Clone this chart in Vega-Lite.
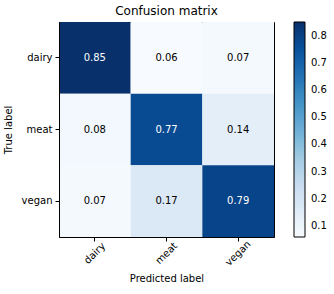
{
  "$schema": "https://vega.github.io/schema/vega-lite/v6.json",
  "autosize": {"type": "none"},
  "padding": {"left": 59, "top": 22, "right": 60, "bottom": 57},
  "width": 215,
  "height": 215,
  "background": "white",
  "title": {"text": "Confusion matrix", "font": "DejaVu Sans", "fontSize": 12, "fontWeight": "normal", "color": "black", "offset": 4},
  "data": {"values": [
    {"true": "dairy", "pred": "dairy", "v": 0.85},
    {"true": "dairy", "pred": "meat", "v": 0.06},
    {"true": "dairy", "pred": "vegan", "v": 0.07},
    {"true": "meat", "pred": "dairy", "v": 0.08},
    {"true": "meat", "pred": "meat", "v": 0.77},
    {"true": "meat", "pred": "vegan", "v": 0.14},
    {"true": "vegan", "pred": "dairy", "v": 0.07},
    {"true": "vegan", "pred": "meat", "v": 0.17},
    {"true": "vegan", "pred": "vegan", "v": 0.79}
  ]},
  "config": {
    "view": {"stroke": "black", "strokeWidth": 1},
    "font": "DejaVu Sans",
    "axis": {"labelFont": "DejaVu Sans", "titleFont": "DejaVu Sans", "labelFontSize": 10, "titleFontSize": 10, "titleFontWeight": "normal", "labelColor": "black", "titleColor": "black", "domainColor": "black", "tickColor": "black", "tickSize": 4, "grid": false}
  },
  "encoding": {
    "x": {"field": "pred", "type": "nominal", "sort": ["dairy", "meat", "vegan"], "scale": {"paddingInner": 0, "paddingOuter": 0},
      "axis": {"title": "Predicted label", "labelAngle": -45, "labelAlign": "center", "labelBaseline": "middle", "labelPadding": 12, "titlePadding": 6}},
    "y": {"field": "true", "type": "nominal", "sort": ["dairy", "meat", "vegan"], "scale": {"paddingInner": 0, "paddingOuter": 0},
      "axis": {"title": "True label", "labelAngle": 0, "labelPadding": 3, "titlePadding": 8}}
  },
  "layer": [
    {
      "mark": {"type": "rect"},
      "encoding": {
        "color": {"field": "v", "type": "quantitative",
          "scale": {"domain": [0.06, 0.85], "range": ["#f7fbff", "#deebf7", "#c6dbef", "#9ecae1", "#6baed6", "#4292c6", "#2171b5", "#08519c", "#08306b"], "interpolate": "rgb"},
          "legend": {"title": null, "orient": "none", "legendX": 235, "legendY": 0, "direction": "vertical", "gradientLength": 215, "gradientThickness": 11, "gradientStrokeColor": "black", "gradientStrokeWidth": 1, "values": [0.1, 0.2, 0.3, 0.4, 0.5, 0.6, 0.7, 0.8], "labelFont": "DejaVu Sans", "labelFontSize": 10, "labelColor": "black", "labelOffset": 6, "format": ".1f"}}
      }
    },
    {
      "mark": {"type": "text", "font": "DejaVu Sans", "fontSize": 10},
      "encoding": {
        "text": {"field": "v", "type": "quantitative", "format": ".2f"},
        "color": {"condition": {"test": "datum.v > 0.425", "value": "white"}, "value": "black"}
      }
    }
  ]
}
